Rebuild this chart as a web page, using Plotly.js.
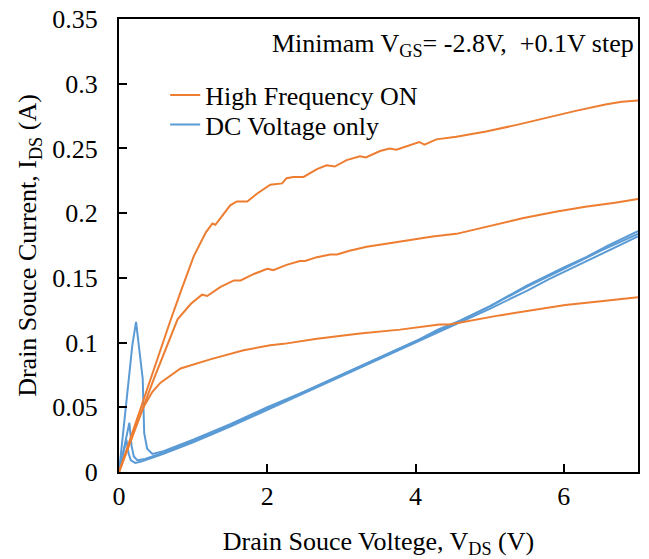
<!DOCTYPE html>
<html>
<head>
<meta charset="utf-8">
<script src="https://cdn.plot.ly/plotly-3.0.1.min.js"></script>
<style>html,body{margin:0;padding:0;background:#fff;}#chart{width:649px;height:559px;}</style>
</head>
<body>
<div id="chart"></div>
<script>
// High Frequency ON (orange) curves
const hfTopV = [0, 0.2, 0.43, 0.70, 0.83, 1.01, 1.17, 1.26, 1.30, 1.50, 1.59, 1.73, 1.86, 2.04, 2.20, 2.26, 2.35, 2.49, 2.67, 2.80, 2.91, 3.07, 3.25, 3.33, 3.52, 3.65, 3.74, 4.05, 4.12, 4.28, 4.55, 4.95, 5.35, 5.71, 6.16, 6.56, 6.78, 7.0];
const hfTopI = [0, 0.034, 0.072, 0.118, 0.139, 0.167, 0.185, 0.192, 0.191, 0.206, 0.209, 0.209, 0.215, 0.222, 0.223, 0.227, 0.228, 0.228, 0.234, 0.237, 0.236, 0.241, 0.244, 0.243, 0.248, 0.250, 0.249, 0.255, 0.253, 0.257, 0.259, 0.263, 0.268, 0.273, 0.279, 0.284, 0.286, 0.287];
const hfMidV = [0, 0.2, 0.47, 0.79, 0.97, 1.12, 1.19, 1.37, 1.55, 1.64, 1.82, 2.00, 2.08, 2.26, 2.44, 2.51, 2.67, 2.85, 2.94, 3.11, 3.34, 3.56, 3.79, 4.23, 4.55, 4.99, 5.44, 5.89, 6.11, 6.29, 6.69, 7.0];
const hfMidI = [0, 0.031, 0.072, 0.118, 0.130, 0.137, 0.136, 0.143, 0.148, 0.148, 0.153, 0.157, 0.156, 0.160, 0.163, 0.163, 0.166, 0.168, 0.168, 0.171, 0.174, 0.176, 0.178, 0.182, 0.184, 0.190, 0.196, 0.201, 0.203, 0.205, 0.208, 0.211];
const hfLowV = [0, 0.15, 0.32, 0.45, 0.56, 0.83, 1.23, 1.68, 2.04, 2.22, 2.67, 3.25, 3.79, 4.32, 4.46, 5.13, 6.02, 6.5, 7.0];
const hfLowI = [0, 0.023, 0.049, 0.062, 0.069, 0.080, 0.087, 0.094, 0.098, 0.099, 0.103, 0.107, 0.110, 0.114, 0.114, 0.121, 0.129, 0.132, 0.135];

// DC Voltage only (blue) curves
const dcAV = [0, 0.05, 0.12, 0.18, 0.23, 0.27, 0.32, 0.34, 0.38, 0.45, 0.6, 1.0, 1.5, 2.0, 2.5, 3.0, 3.5, 4.0, 4.5, 5.0, 5.5, 6.0, 6.5, 7.0];
const dcAI = [0, 0.028, 0.07, 0.098, 0.116, 0.098, 0.072, 0.030, 0.018, 0.014, 0.016, 0.025, 0.037, 0.050, 0.062, 0.075, 0.088, 0.101, 0.114, 0.128, 0.143, 0.157, 0.171, 0.184];
const dcBV = [0, 0.07, 0.14, 0.17, 0.2, 0.25, 0.35, 0.6, 1.0, 1.5, 2.0, 2.5, 3.0, 3.5, 4.0, 4.3, 4.6, 5.0, 5.5, 6.0, 6.3, 6.6, 7.0];
const dcBI = [0, 0.019, 0.038, 0.020, 0.012, 0.009, 0.010, 0.015, 0.024, 0.036, 0.049, 0.062, 0.075, 0.088, 0.101, 0.110, 0.117, 0.128, 0.144, 0.158, 0.166, 0.175, 0.186];
const dcCV = [0, 0.05, 0.10, 0.13, 0.16, 0.22, 0.3, 0.6, 1.0, 1.5, 2.0, 2.5, 3.0, 3.5, 4.0, 4.5, 5.0, 5.5, 5.8, 6.2, 6.6, 7.0];
const dcCI = [0, 0.012, 0.025, 0.014, 0.009, 0.007, 0.008, 0.014, 0.023, 0.035, 0.048, 0.061, 0.074, 0.087, 0.100, 0.113, 0.126, 0.140, 0.149, 0.160, 0.171, 0.182];

const xTicks = [0, 2, 4, 6];
const yTicks = [0, 0.05, 0.1, 0.15, 0.2, 0.25, 0.3, 0.35];
const yTickText = ['0', '0.05', '0.1', '0.15', '0.2', '0.25', '0.3', '0.35'];

const ORANGE = '#ED7D31';
const BLUE = '#5B9BD5';
const FONT = 'Liberation Serif';

function tr(x, y, color, name, show, leg) {
  return {x: x, y: y, type: 'scatter', mode: 'lines', name: name,
    line: {color: color, width: 2}, showlegend: show, legend: leg, hoverinfo: 'skip'};
}

const data = [
  tr(dcAV, dcAI, BLUE, 'DC Voltage only', true, 'legend2'),
  tr(dcBV, dcBI, BLUE, 'DC Voltage only', false, 'legend2'),
  tr(dcCV, dcCI, BLUE, 'DC Voltage only', false, 'legend2'),
  tr(hfTopV, hfTopI, ORANGE, 'High Frequency ON', true, 'legend'),
  tr(hfMidV, hfMidI, ORANGE, 'High Frequency ON', false, 'legend'),
  tr(hfLowV, hfLowI, ORANGE, 'High Frequency ON', false, 'legend')
];

const layout = {
  width: 649, height: 559,
  margin: {l: 119, r: 11, t: 19, b: 87},
  paper_bgcolor: '#fff', plot_bgcolor: '#fff',
  font: {family: FONT, size: 26, color: '#000'},
  xaxis: {
    range: [0, 7], tickvals: xTicks, ticks: 'inside', ticklen: 8, tickwidth: 2, tickcolor: '#000',
    showline: true, linecolor: '#000', linewidth: 2, mirror: true, showgrid: false, zeroline: false,
    tickfont: {family: FONT, size: 26, color: '#000'},
    title: {text: 'Drain Souce Voltege, V<sub>DS</sub> (V)', font: {family: FONT, size: 26, color: '#000'}, standoff: 22}
  },
  yaxis: {
    range: [0, 0.35], tickvals: yTicks, ticktext: yTickText, ticks: 'inside', ticklen: 8, tickwidth: 2, tickcolor: '#000',
    showline: true, linecolor: '#000', linewidth: 2, mirror: true, showgrid: false, zeroline: false,
    tickfont: {family: FONT, size: 26, color: '#000'}, ticklabelstandoff: 14,
    title: {text: 'Drain Souce Current, I<sub>DS</sub> (A)', font: {family: FONT, size: 26, color: '#000'}, standoff: 8}
  },
  legend: {x: 0.089, y: 0.832, xanchor: 'left', yanchor: 'middle', bgcolor: 'rgba(0,0,0,0)',
    font: {family: FONT, size: 26, color: '#000'}},
  legend2: {x: 0.089, y: 0.767, xanchor: 'left', yanchor: 'middle', bgcolor: 'rgba(0,0,0,0)',
    font: {family: FONT, size: 26, color: '#000'}},
  annotations: [{
    xref: 'paper', yref: 'paper', x: 1, y: 0.943, xanchor: 'right', yanchor: 'middle', xshift: -2,
    showarrow: false, text: 'Minimam V<sub>GS</sub>= -2.8V,\u00a0 +0.1V step',
    font: {family: FONT, size: 26, color: '#000'}
  }]
};

Plotly.newPlot('chart', data, layout, {displayModeBar: false, staticPlot: true});
</script>
</body>
</html>
